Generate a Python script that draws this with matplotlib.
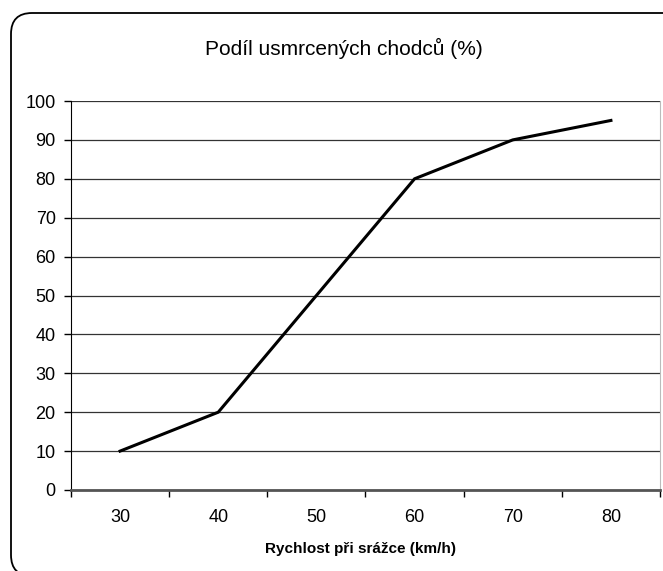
import matplotlib.pyplot as plt
from matplotlib.patches import FancyBboxPatch
from matplotlib.transforms import IdentityTransform

# data
speeds = ['30', '40', '50', '60', '70', '80']
killed = [10, 20, 50, 80, 90, 95]
y_ticks = list(range(0, 101, 10))

plt.rcParams['font.family'] = ['Liberation Sans', 'DejaVu Sans']
fig = plt.figure(figsize=(6.63, 5.71), dpi=100)

# rounded chart frame in pixels (runs off the right and bottom edges)
frame = FancyBboxPatch((11, -5), 700, 563,
                       boxstyle='round,pad=0,rounding_size=21',
                       transform=IdentityTransform(), facecolor='white',
                       edgecolor='black', linewidth=1.3, zorder=-5)
fig.patches.append(frame)

ax = fig.add_axes([71 / 663, 81 / 571, 589 / 663, 389 / 571])
ax.set_zorder(2)
ax.set_facecolor('none')
x = range(len(speeds))
ax.plot(x, killed, color='black', linewidth=2.2, solid_joinstyle='miter', zorder=3)

ax.set_xlim(-0.5, len(speeds) - 0.5)
ax.set_ylim(0, 100)
ax.set_yticks(y_ticks)
ax.set_xticks(list(x))
ax.set_xticklabels(speeds)
ax.set_xticks([i - 0.5 for i in range(len(speeds) + 1)], minor=True)
ax.tick_params(axis='x', which='major', length=0, pad=14, labelsize=13)
ax.tick_params(axis='x', which='minor', length=5, width=1, direction='out')
ax.tick_params(axis='y', length=5, width=1, direction='out', pad=6, labelsize=13)

ax.grid(axis='y', color='#333333', linewidth=0.9)
ax.set_axisbelow(True)
ax.spines['top'].set_visible(False)
ax.spines['right'].set_color('#bbbbbb')
ax.spines['left'].set_color('black')
ax.spines['bottom'].set_color('#555555')
ax.spines['bottom'].set_linewidth(2)

fig.text(344 / 663, 1 - 48 / 571, 'Podíl usmrcených chodců (%)', ha='center', va='center',
         fontsize=15)
fig.text(361 / 663, 1 - 549 / 571, 'Rychlost při srážce (km/h)', ha='center', va='center',
         fontsize=11, fontweight='bold')

fig.savefig('out.png', dpi=100)
